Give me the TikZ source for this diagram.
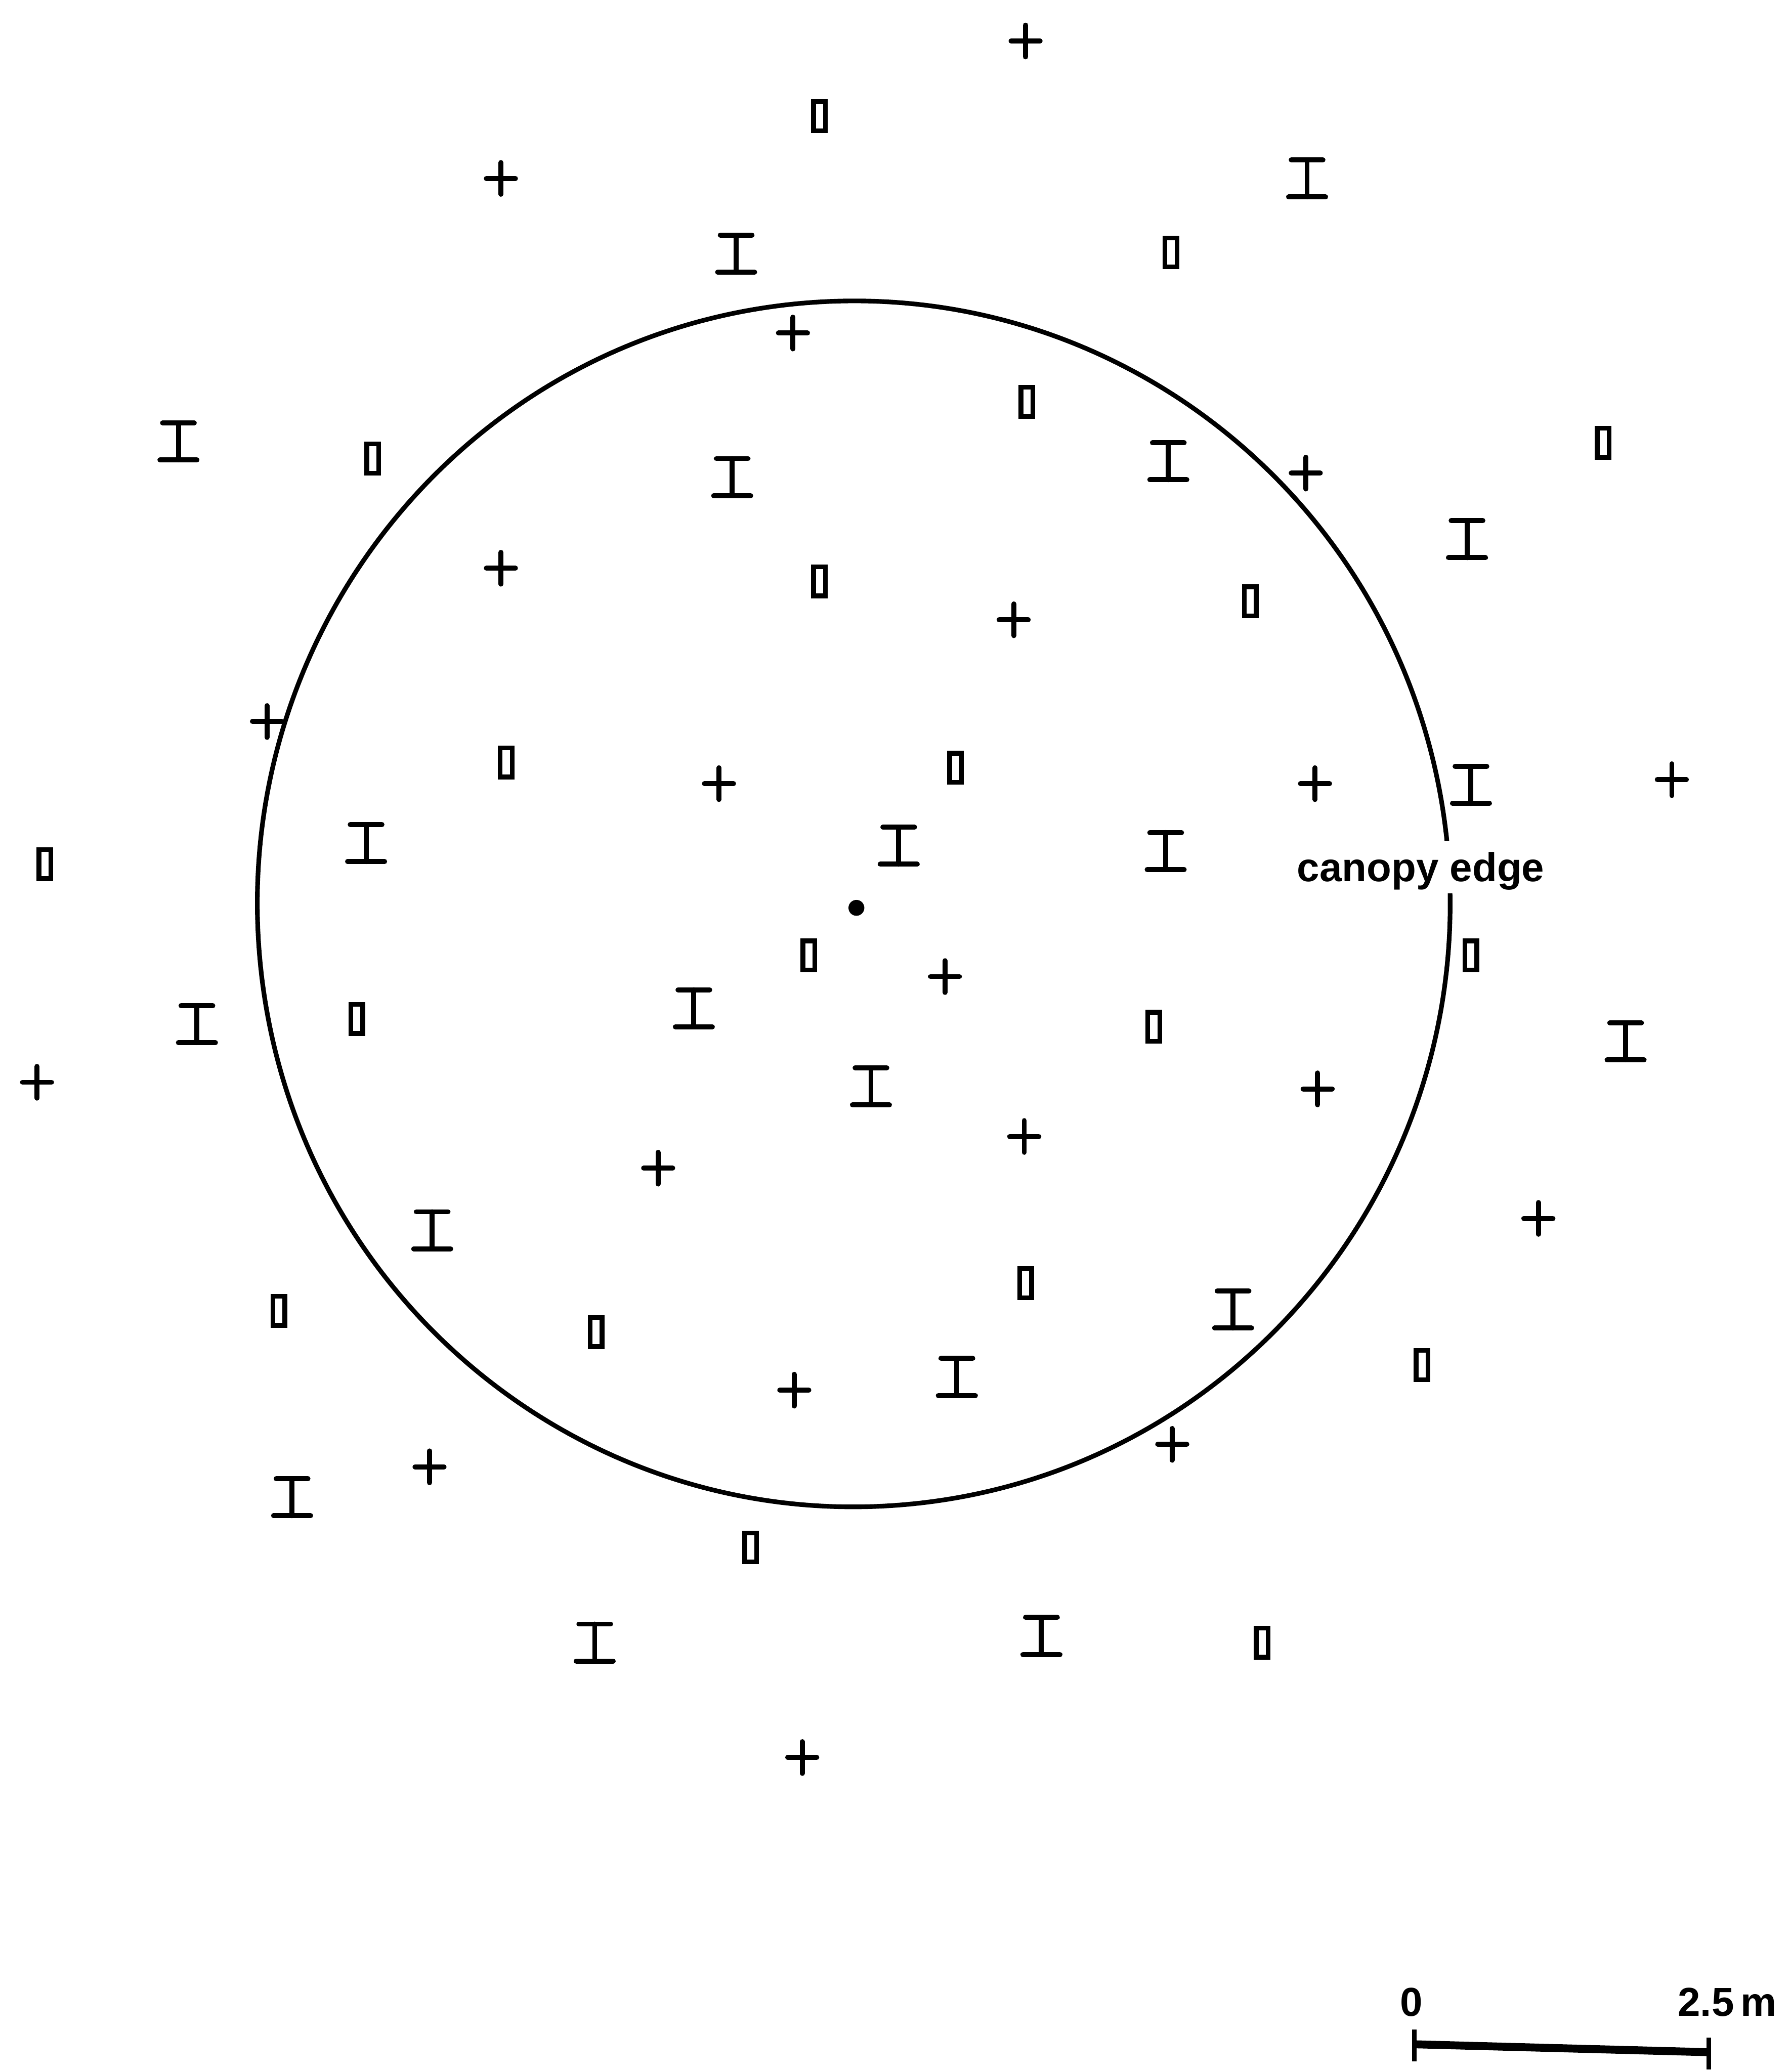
\documentclass[tikz,border=0pt]{standalone}
\usepackage{fontspec}
\setmainfont{Liberation Sans}
\begin{document}
\begin{tikzpicture}[x=0.01cm,y=-0.01cm,
  symline/.style={line width=0.038cm, line cap=round},
  plussym/.pic={\draw[symline] (-11,0) -- (11,0) (0,-12) -- (0,12);},
  ibeam/.pic={\draw[symline] (-12,-14) -- (12,-14) (0,-14) -- (0,14) (-14,14) -- (14,14);},
  rectsym/.pic={\draw[line width=0.036cm] (-4.5,-11) rectangle (4.5,11);},
  lbl/.style={inner sep=0pt, font=\bfseries\fontsize{8.7}{11}\selectfont}]
\useasboundingbox (0,0) rectangle (1355,1568);
\fill[white] (0,0) rectangle (1355,1568);
% canopy edge (ellipse with gap at the label)
\coordinate (C) at (646,684);
\draw[line width=0.035cm] (C) ++(6:4.51cm and 4.56cm) arc[start angle=6, end angle=361, x radius=4.51cm, y radius=4.56cm];
\fill (648,687) circle (0.06cm);
\node[lbl] (canopy) at (1075,659) {canopy edge};
% plus symbols
\foreach \x/\y in {776/31,379/135,600/252,988/358,379/430,767/469,202/546,544/593,995/593,1265/590,715/739,28/819,997/824,775/860,498/884,1164/922,601/1052,887/1093,325/1110,607/1330}
  \pic at (\x,\y) {plussym};
% I-beam symbols
\foreach \x/\y in {989/135,557/192,135/334,554/361,884/349,1110/408,277/638,680/640,882/644,1113/594,149/775,525/763,1230/788,659/822,327/931,933/991,724/1042,221/1133,450/1243,788/1238}
  \pic at (\x,\y) {ibeam};
% rectangle symbols
\foreach \x/\y in {620/88,886/191,777/304,282/347,1213/335,620/440,946/455,383/577,723/581,34/654,612/723,1113/723,270/771,873/777,776/971,211/992,451/1008,1076/1033,568/1171,955/1243}
  \pic at (\x,\y) {rectsym};
% scale bar
\node[lbl] (zero) at (1068,1515) {0};
\node[lbl] (twofive) at (1307,1515) {2.5\,m};
\coordinate (sbL) at (1070,1547);
\coordinate (sbR) at (1293,1553);
\draw[line width=0.06cm] (sbL) -- (sbR);
\draw[line width=0.035cm] (sbL) ++(0,-11) -- ++(0,24);
\draw[line width=0.035cm] (sbR) ++(0,-11) -- ++(0,24);
\end{tikzpicture}
\end{document}
